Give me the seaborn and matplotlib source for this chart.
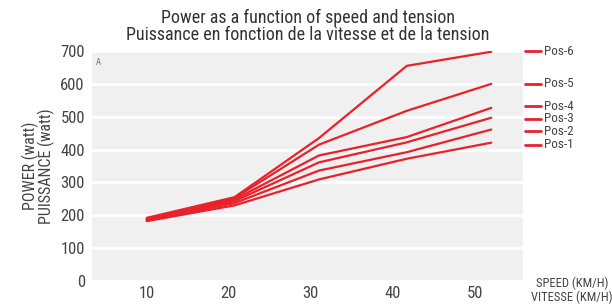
import pandas as pd
import matplotlib.pyplot as plt
import matplotlib.transforms as mtransforms
import seaborn as sns

# values
speeds = [10, 20.7, 31, 41.7, 52]
pos1 = [182, 230, 309, 372, 421]
pos2 = [184, 237, 336, 392, 461]
pos3 = [186, 243, 361, 422, 497]
pos4 = [188, 248, 382, 438, 527]
pos5 = [190, 252, 415, 518, 600]
pos6 = [192, 255, 435, 655, 698]
names = ['Pos-1', 'Pos-2', 'Pos-3', 'Pos-4', 'Pos-5', 'Pos-6']
x_ticks = [10, 20, 30, 40, 50]
y_ticks = [0, 100, 200, 300, 400, 500, 600, 700]

red = '#e8212b'
grey = '#444444'

sns.set_style('white', {'axes.facecolor': '#f0f0f0', 'grid.color': 'white'})
plt.rcParams['font.family'] = ['Roboto Condensed', 'Liberation Sans Narrow', 'Roboto', 'DejaVu Sans']

series = [pos1, pos2, pos3, pos4, pos5, pos6]
rows = []
for name, vals in zip(names, series):
    for s, v in zip(speeds, vals):
        rows.append({'speed': s, 'power': v, 'pos': name})
df = pd.DataFrame(rows)

fig = plt.figure(figsize=(6.12, 3.04), dpi=100)
ax = fig.add_axes([0.150, 0.076, 0.705, 0.756])

sns.lineplot(data=df, x='speed', y='power', hue='pos',
             palette=[red] * len(names), linewidth=1.6, legend=False, ax=ax)

ax.set_xlim(3.3, 55.9)
ax.set_ylim(0, 700)
ax.set_xticks(x_ticks)
ax.set_yticks(y_ticks)
ax.set_xticks([15, 25, 35, 45], minor=True)
ax.yaxis.grid(True, color='white', linewidth=2)
ax.set_axisbelow(True)
sns.despine(ax=ax, left=True, bottom=True)
ax.tick_params(axis='both', which='major', length=0, labelsize=12, labelcolor=grey)
ax.tick_params(axis='x', pad=4)
ax.tick_params(axis='y', pad=5)
ax.tick_params(axis='x', which='minor', direction='in', length=4, width=2, color='white')

ax.set_xlabel('')
ax.set_ylabel('POWER (watt)\nPUISSANCE (watt)', fontsize=11.5, color=grey, linespacing=0.95)
ax.yaxis.set_label_coords(-0.085, 0.5)

ax.set_title('Power as a function of speed and tension\nPuissance en fonction de la vitesse et de la tension',
             fontsize=13, color='#333333', linespacing=0.92, pad=8)

ax.text(0.01, 0.97, 'A', transform=ax.transAxes, fontsize=6.5, color='#777777', va='top')

# right-hand position labels, spread a little so they do not touch
label_y = [414, 456, 494, 532, 600, 700]
trans = mtransforms.blended_transform_factory(ax.transAxes, ax.transData)
for name, ly in zip(names, label_y):
    ax.plot([1.003, 1.042], [ly, ly], color=red, linewidth=2,
            transform=trans, clip_on=False)
    ax.text(1.049, ly, name, transform=trans, fontsize=9.5, color=grey,
            va='center', ha='left')

fig.text(0.935, 1 - 277 / 304, 'SPEED (KM/H)\nVITESSE (KM/H)', fontsize=9, color=grey,
         ha='center', va='top', linespacing=1.05)

plt.savefig('out.png', dpi=100)
